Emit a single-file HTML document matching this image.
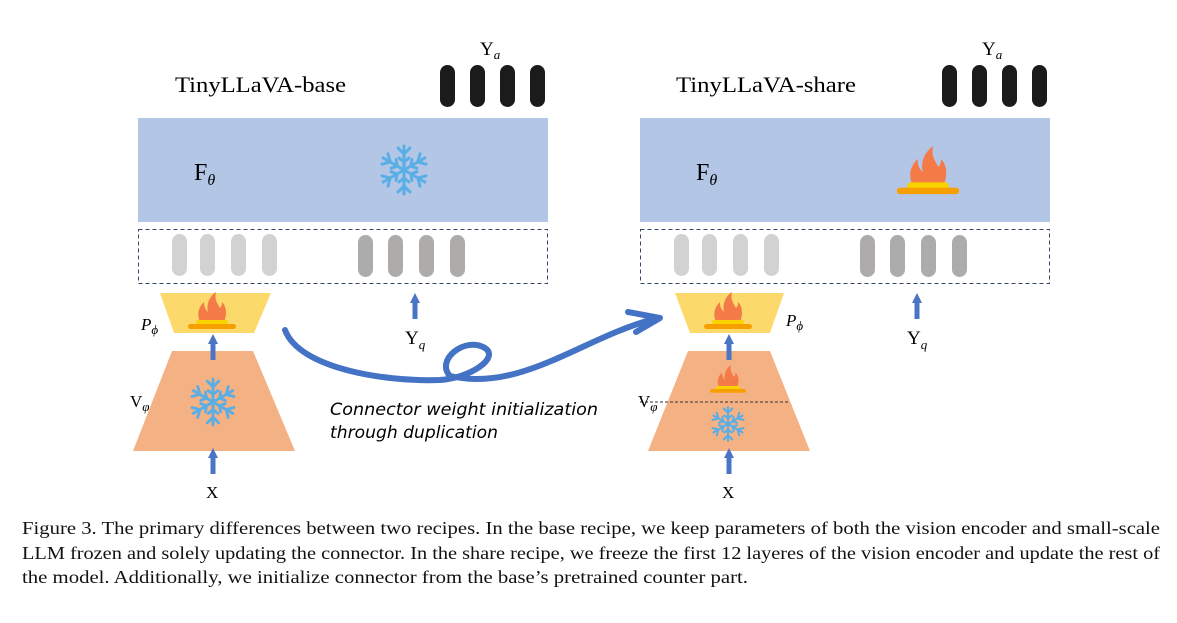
<!DOCTYPE html>
<html><head><meta charset="utf-8"><style>
body{margin:0;background:#fff}
</style></head><body>
<div style="position:relative;width:1177px;height:623px;overflow:hidden">
<svg width="1177" height="623" style="position:absolute;left:0;top:0" font-family="Liberation Serif,serif">
<defs>
<g id="ar"><path d="M-5,0 L0,-10 L5,0 L2.5,0 L2.5,16 L-2.5,16 L-2.5,0Z" fill="#4a74c4"/></g>
<g id="flame"><path d="M-12,10 C-16,0 -12,-6 -8,-10 C-8,-4 -6,-2 -4,0 C-6,-8 -2,-16 4,-20 C2,-12 6,-8 8,-4 C10,-6 10,-8 10,-10 C16,-4 14,6 12,10Z" fill="#f47a48"/><rect x="-16" y="8" width="32" height="5" rx="2.5" fill="#f9d300"/><rect x="-24" y="12" width="48" height="5" rx="2.5" fill="#f5a000"/></g>
<g id="snow" stroke="#5aaee6" stroke-width="3" stroke-linecap="round" fill="none"><g id="sp"><line x1="0" y1="0" x2="0" y2="-24"/><polyline points="-6,-22 0,-16 6,-22"/><polyline points="-5,-12 0,-8 5,-12"/></g><use href="#sp" transform="rotate(60)"/><use href="#sp" transform="rotate(120)"/><use href="#sp" transform="rotate(180)"/><use href="#sp" transform="rotate(240)"/><use href="#sp" transform="rotate(300)"/></g>
<g id="half">
<rect x="138" y="118" width="410" height="104" fill="#b3c6e6"/>
<rect x="138.5" y="229.5" width="409" height="54" fill="none" stroke="#34456a" stroke-dasharray="4,3"/>
<g fill="#d3d2d3"><rect x="172" y="234" width="15" height="42" rx="7.5"/><rect x="200" y="234" width="15" height="42" rx="7.5"/><rect x="231" y="234" width="15" height="42" rx="7.5"/><rect x="262" y="234" width="15" height="42" rx="7.5"/></g>
<g fill="#aeabab"><rect x="358" y="235" width="15" height="42" rx="7.5"/><rect x="388" y="235" width="15" height="42" rx="7.5"/><rect x="419" y="235" width="15" height="42" rx="7.5"/><rect x="450" y="235" width="15" height="42" rx="7.5"/></g>
<g fill="#1b1b1b"><rect x="440" y="65" width="15" height="42" rx="7.5"/><rect x="470" y="65" width="15" height="42" rx="7.5"/><rect x="500" y="65" width="15" height="42" rx="7.5"/><rect x="530" y="65" width="15" height="42" rx="7.5"/></g>
<text x="480" y="55" font-size="19">Y<tspan font-style="italic" font-size="13" dy="4">a</tspan></text>
<text x="194" y="180" font-size="24">F<tspan font-style="italic" font-size="16" dy="5">θ</tspan></text>
<use href="#ar" x="415" y="303"/>
<text x="405" y="344" font-size="19">Y<tspan font-style="italic" font-size="13" dy="5">q</tspan></text>
</g>
</defs>
<use href="#half"/>
<use href="#half" x="502"/>
<text x="175" y="92" font-size="22" textLength="171" lengthAdjust="spacingAndGlyphs">TinyLLaVA-base</text>
<text x="676" y="92" font-size="22" textLength="180" lengthAdjust="spacingAndGlyphs">TinyLLaVA-share</text>
<use href="#snow" x="404" y="170"/>
<use href="#flame" x="928" y="172" transform="translate(928 172) scale(1.3) translate(-928 -172)"/>
<!-- left bottom -->
<polygon points="160,293 271,293 254,333 174,333" fill="#fcd96b"/>
<use href="#flame" x="212" y="312"/>
<polygon points="172,351 253,351 295,451 133,451" fill="#f4b183"/>
<use href="#snow" x="213" y="402" transform="translate(213 402) scale(0.95) translate(-213 -402)"/>
<use href="#ar" x="213" y="344"/>
<use href="#ar" x="213" y="458"/>
<text x="141" y="330" font-size="17" font-style="italic">P<tspan font-size="13" dy="4">ϕ</tspan></text>
<text x="130" y="407" font-size="17">V<tspan font-style="italic" font-size="13" dy="4">φ</tspan></text>
<text x="206" y="498" font-size="17">X</text>
<!-- right bottom -->
<polygon points="675,293 784,293 770,333 690,333" fill="#fcd96b"/>
<use href="#flame" x="728" y="312"/>
<polygon points="688,351 770,351 810,451 648,451" fill="#f4b183"/>
<line x1="640" y1="402" x2="790" y2="402" stroke="#333" stroke-dasharray="3,2"/>
<use href="#flame" x="728" y="380" transform="translate(728 380) scale(0.75) translate(-728 -380)"/>
<use href="#snow" x="728" y="424" transform="translate(728 424) scale(0.7) translate(-728 -424)"/>
<use href="#ar" x="729" y="344"/>
<use href="#ar" x="729" y="458"/>
<text x="786" y="326" font-size="17" font-style="italic">P<tspan font-size="13" dy="4">ϕ</tspan></text>
<text x="638" y="407" font-size="17">V<tspan font-style="italic" font-size="13" dy="4">φ</tspan></text>
<text x="722" y="498" font-size="17">X</text>
<!-- curve -->
<path d="M285,330 C300,370 390,382 440,380 C470,378 500,358 485,348 C465,336 435,360 450,376 C520,392 580,340 650,320" fill="none" stroke="#4472c4" stroke-width="6" stroke-linecap="round"/>
<path d="M628,312 L660,318 L636,332" fill="none" stroke="#4472c4" stroke-width="6" stroke-linecap="round" stroke-linejoin="round"/>
<text x="330" y="415" font-size="17" font-style="italic" font-family="DejaVu Sans,sans-serif" textLength="268" lengthAdjust="spacingAndGlyphs">Connector weight initialization</text>
<text x="330" y="438" font-size="17" font-style="italic" font-family="DejaVu Sans,sans-serif" textLength="168" lengthAdjust="spacingAndGlyphs">through duplication</text>
<g font-size="18" fill="#111">
<text x="22" y="534" textLength="1138" lengthAdjust="spacingAndGlyphs">Figure 3. The primary differences between two recipes. In the base recipe, we keep parameters of both the vision encoder and small-scale</text>
<text x="22" y="559" textLength="1138" lengthAdjust="spacingAndGlyphs">LLM frozen and solely updating the connector. In the share recipe, we freeze the first 12 layeres of the vision encoder and update the rest of</text>
<text x="22" y="583" textLength="726" lengthAdjust="spacingAndGlyphs">the model. Additionally, we initialize connector from the base’s pretrained counter part.</text>
</g>
</svg>
</div>
</body></html>
